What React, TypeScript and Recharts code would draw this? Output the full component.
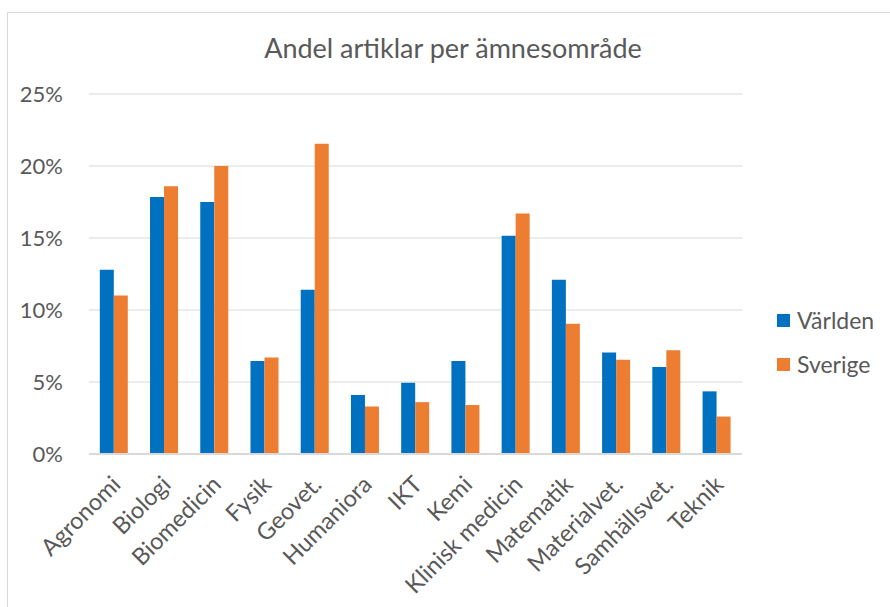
import React from 'react';
import { BarChart, Bar, XAxis, YAxis, CartesianGrid } from 'recharts';

const categories = ['Agronomi', 'Biologi', 'Biomedicin', 'Fysik', 'Geovet.', 'Humaniora', 'IKT', 'Kemi', 'Klinisk medicin', 'Matematik', 'Materialvet.', 'Samhällsvet.', 'Teknik'];
const varlden = [12.8, 17.85, 17.5, 6.45, 11.4, 4.1, 4.95, 6.45, 15.15, 12.1, 7.05, 6.05, 4.35];
const sverige = [11.0, 18.6, 20.0, 6.7, 21.55, 3.3, 3.6, 3.4, 16.7, 9.05, 6.55, 7.2, 2.6];
const yTicks = [0, 5, 10, 15, 20, 25];
const title = 'Andel artiklar per ämnesområde';
const seriesNames = ['Världen', 'Sverige'];

const data = categories.map((c, i) => ({ name: c, varlden: varlden[i], sverige: sverige[i] }));

const FONT = 'Lato, "Open Sans", sans-serif';
const TEXT = '#595959';
const BLUE = '#0070C0';
const ORANGE = '#ED7D31';

const XTick = (props: any) => {
  const { x, y, payload } = props;
  return (
    <g transform={`translate(${x + 8},${y + 24})`}>
      <text x={0} y={0} textAnchor="end" transform="rotate(-45)" fill={TEXT} fontSize={23.5} fontFamily={FONT}>
        {payload.value}
      </text>
    </g>
  );
};

const LegendBox = () => (
  <div style={{ position: 'absolute', left: 777, top: 298, fontFamily: FONT, color: TEXT, fontSize: 23 }}>
    {[BLUE, ORANGE].map((col, i) => (
      <div key={i} style={{ display: 'flex', alignItems: 'center', height: 44 }}>
        <span style={{ display: 'inline-block', width: 13, height: 13, background: col, marginRight: 7 }} />
        <span>{seriesNames[i]}</span>
      </div>
    ))}
  </div>
);

export default function App() {
  return (
    <div style={{ position: 'fixed', left: 0, top: 0, width: 890, height: 607, overflow: 'hidden', background: '#fff' }}>
      <div style={{ position: 'absolute', left: 7, top: 12, width: 950, height: 700, border: '1.5px solid #d9d9d9', boxSizing: 'border-box' }} />
      <div style={{ position: 'absolute', left: 0, top: 0 }}>
        <BarChart
          width={890}
          height={607}
          data={data}
          margin={{ top: 94, right: 148, bottom: 3, left: 0 }}
          barCategoryGap="21.5%"
          barGap={0}
        >
          <text x={453} y={58} textAnchor="middle" fill={TEXT} fontSize={27} fontFamily={FONT}>{title}</text>
          <CartesianGrid vertical={false} stroke="#d9d9d9" strokeWidth={1} />
          <XAxis
            dataKey="name"
            interval={0}
            height={150}
            tickLine={false}
            axisLine={{ stroke: '#d9d9d9', strokeWidth: 2 }}
            tick={<XTick />}
          />
          <YAxis
            width={89}
            domain={[0, 25]}
            ticks={yTicks}
            tickFormatter={(v: number) => `${v}%`}
            axisLine={false}
            tickLine={false}
            tickSize={0}
            tickMargin={26}
            tick={{ fill: TEXT, fontSize: 22, fontFamily: FONT }}
          />
          <Bar dataKey="varlden" name={seriesNames[0]} fill={BLUE} isAnimationActive={false} />
          <Bar dataKey="sverige" name={seriesNames[1]} fill={ORANGE} isAnimationActive={false} />
        </BarChart>
      </div>
      <LegendBox />
    </div>
  );
}
